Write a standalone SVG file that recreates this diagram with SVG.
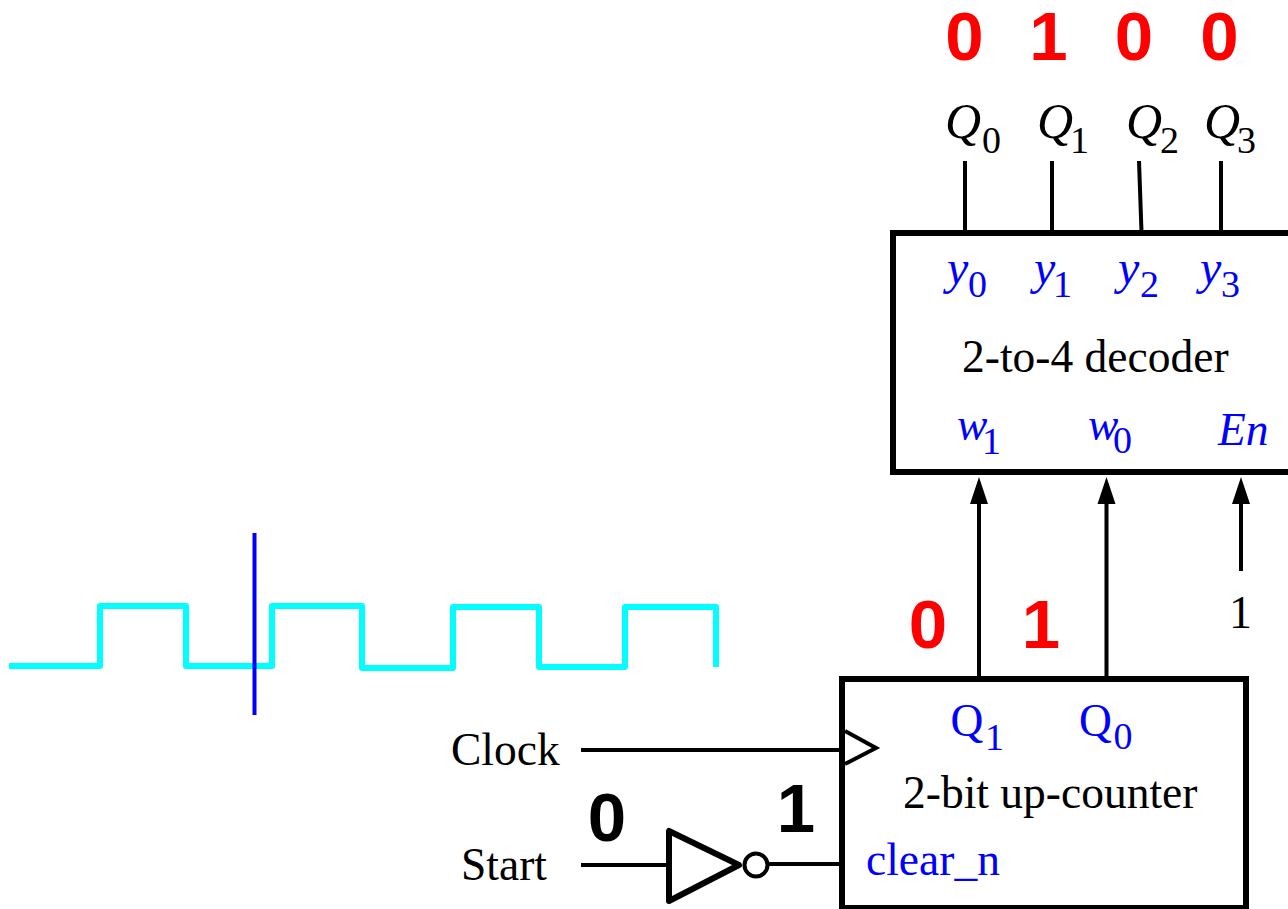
<svg xmlns="http://www.w3.org/2000/svg" width="1288" height="909" viewBox="0 0 1288 909">
<style>
text{font-family:"Liberation Serif","Times New Roman",serif;fill:#000}
.t{font-size:45.500px}
.q{font-size:50px}
.y{font-size:48px}
.i{font-style:italic}
.s{font-size:38px}
.b{fill:#0000ff}
.big{font-family:"Liberation Sans",Arial,sans-serif;font-weight:bold;font-size:69px;text-anchor:middle}
.r{fill:#ff0000}
.w{fill:none;stroke:#000;stroke-width:4}
.box{fill:none;stroke:#000;stroke-width:6}
.wave{fill:none;stroke:#00ffff;stroke-width:6;stroke-linejoin:round}
</style>
<g id="connectors">
<path class="w" d="M965 161V232"/>
<path class="w" d="M1052 161V232"/>
<path class="w" d="M1139 161L1141.500 232"/>
<path class="w" d="M1221 161V232"/>
<path class="w" d="M979 677V495"/>
<path class="w" d="M1106.500 677V495"/>
<path class="w" d="M1241 571V495"/>
<path d="M979 477L970 504H988Z M1106.500 477L1097.500 504H1115.500Z M1241 477L1232 504H1250Z"/>
<path class="w" d="M581 750H843"/>
<path class="w" d="M581 865H669"/>
<path class="w" d="M769 864H843"/>
</g>
<g id="decoder">
<rect class="box" x="893" y="233" width="420" height="239"/>
<text class="t" x="962" y="372">2-to-4 decoder</text>
<text class="y i b" x="947" y="284">y</text><text class="s b" x="968" y="297">0</text>
<text class="y i b" x="1034" y="284">y</text><text class="s b" x="1053" y="297">1</text>
<text class="y i b" x="1118" y="284">y</text><text class="s b" x="1140" y="297">2</text>
<text class="y i b" x="1200" y="284">y</text><text class="s b" x="1221" y="297">3</text>
<text class="t i b" x="957" y="440">w</text><text class="s b" x="982" y="454">1</text>
<text class="t i b" x="1088" y="440">w</text><text class="s b" x="1113" y="453">0</text>
<text class="t i b" x="1218" y="445">En</text>
</g>
<g id="counter">
<rect class="box" x="842" y="679" width="404" height="229"/>
<text class="t" x="903" y="808">2-bit up-counter</text>
<text class="t b" x="950.500" y="736">Q</text><text class="s b" x="985" y="750">1</text>
<text class="t b" x="1079" y="736">Q</text><text class="s b" x="1113.500" y="749">0</text>
<text class="t b" x="866" y="875">clear_n</text>
<path class="w" d="M845 731L876 748L845 764"/>
</g>
<g id="inverter">
<path d="M669 831V901L739 865Z" fill="none" stroke="#000" stroke-width="6" stroke-linejoin="round"/>
<circle cx="756" cy="865" r="11.500" fill="none" stroke="#000" stroke-width="4"/>
</g>
<g id="labels">
<text class="big r" x="964.500" y="60">0</text>
<text class="big r" x="1048.500" y="60">1</text>
<text class="big r" x="1134" y="60">0</text>
<text class="big r" x="1219.500" y="60">0</text>
<text class="big r" x="928" y="648">0</text>
<text class="big r" x="1041" y="648">1</text>
<text class="big" x="607" y="841">0</text>
<text class="big" x="796" y="832">1</text>
<text class="q i" x="945" y="138">Q</text><text class="s" x="982" y="153">0</text>
<text class="q i" x="1037" y="138">Q</text><text class="s" x="1070" y="153">1</text>
<text class="q i" x="1126" y="138">Q</text><text class="s" x="1160" y="153">2</text>
<text class="q i" x="1204" y="138">Q</text><text class="s" x="1237" y="153">3</text>
<text class="t" x="451" y="765">Clock</text>
<text class="t" x="461" y="880">Start</text>
<text x="1229" y="628" style="font-size:46px">1</text>
</g>
<g id="waveform">
<path class="wave" d="M9 666H100V606H186V666H272V606H362V668H453V607H539V667H625V607H716V667"/>
<path d="M254.500 533V715" stroke="#0000ff" stroke-width="4" fill="none"/>
</g>
</svg>
